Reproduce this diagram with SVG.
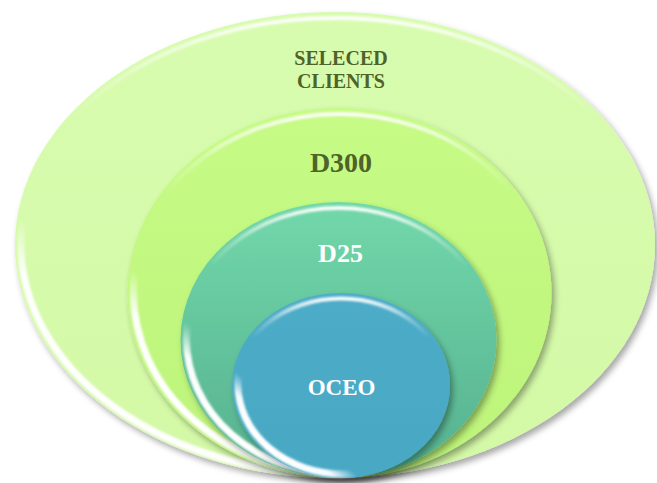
<svg xmlns="http://www.w3.org/2000/svg" width="657" height="483" viewBox="0 0 657 483">
<style>
.lbl{font-family:"Liberation Serif","Times New Roman",serif;font-weight:bold;text-anchor:middle}
.dark{fill:#4f6228}
.light{fill:#ffffff}
.top{fill:none;stroke:url(#topHi);stroke-width:4;filter:url(#soft)}
.low{fill:none;stroke:url(#lowHi);stroke-width:7;filter:url(#soft)}
</style>
<defs>
<filter id="shadow" x="-10%" y="-10%" width="125%" height="125%">
<feDropShadow dx="3" dy="4" stdDeviation="3" flood-color="#000" flood-opacity="0.35"/>
</filter>
<filter id="soft" x="-5%" y="-5%" width="110%" height="110%">
<feGaussianBlur stdDeviation="1"/>
</filter>
<linearGradient id="topHi" x1="0" y1="0" x2="0" y2="1">
<stop offset="0" stop-color="#fff" stop-opacity="0.95"/>
<stop offset="0.12" stop-color="#fff" stop-opacity="0.3"/>
<stop offset="0.22" stop-color="#fff" stop-opacity="0"/>
</linearGradient>
<linearGradient id="lowHi" x1="0" y1="1" x2="1" y2="0">
<stop offset="0.14" stop-color="#fff" stop-opacity="1"/>
<stop offset="0.22" stop-color="#fff" stop-opacity="0.95"/>
<stop offset="0.28" stop-color="#fff" stop-opacity="0"/>
</linearGradient>
<linearGradient id="g1" x1="0" y1="0" x2="0" y2="1">
<stop offset="0" stop-color="#d8fcaf"/>
<stop offset="1" stop-color="#d3f9a6"/>
</linearGradient>
<linearGradient id="g2" x1="0" y1="0" x2="0" y2="1">
<stop offset="0" stop-color="#c6fb86"/>
<stop offset="1" stop-color="#bdf479"/>
</linearGradient>
<linearGradient id="g3" x1="0" y1="0" x2="0" y2="1">
<stop offset="0" stop-color="#72d8aa"/>
<stop offset="1" stop-color="#55b08f"/>
</linearGradient>
<linearGradient id="g4" x1="0" y1="0" x2="0" y2="1">
<stop offset="0" stop-color="#4dacc8"/>
<stop offset="1" stop-color="#49a8c4"/>
</linearGradient>
</defs>
<g id="selected-clients">
<ellipse cx="335" cy="245" rx="320" ry="233" fill="url(#g1)" filter="url(#shadow)"/>
<ellipse class="top" cx="335" cy="247" rx="317" ry="229"/>
<ellipse class="low" cx="337" cy="244" rx="316" ry="230"/>
<text class="lbl dark" x="341" y="65" font-size="20">SELECED</text>
<text class="lbl dark" x="341" y="88" font-size="20">CLIENTS</text>
</g>
<g id="d300">
<ellipse cx="339.5" cy="293" rx="212" ry="185" fill="url(#g2)" filter="url(#shadow)"/>
<ellipse class="top" cx="339.5" cy="295" rx="209" ry="181"/>
<ellipse class="low" cx="341.5" cy="292" rx="208" ry="182"/>
<text class="lbl dark" x="341" y="172" font-size="28">D300</text>
</g>
<g id="d25">
<ellipse cx="338.5" cy="340" rx="158" ry="138" fill="url(#g3)" filter="url(#shadow)"/>
<ellipse class="top" cx="338.5" cy="342" rx="155" ry="134"/>
<ellipse class="low" cx="340.5" cy="339" rx="154" ry="135"/>
<text class="lbl light" x="340.5" y="262" font-size="26">D25</text>
</g>
<g id="oceo">
<ellipse cx="341" cy="385.5" rx="109" ry="92.5" fill="url(#g4)" filter="url(#shadow)"/>
<ellipse class="top" cx="341" cy="387.5" rx="106" ry="89"/>
<ellipse class="low" cx="343" cy="384.5" rx="105" ry="89.5"/>
<text class="lbl light" x="341.5" y="395" font-size="23">OCEO</text>
</g>
<g id="connectors"/>
</svg>
